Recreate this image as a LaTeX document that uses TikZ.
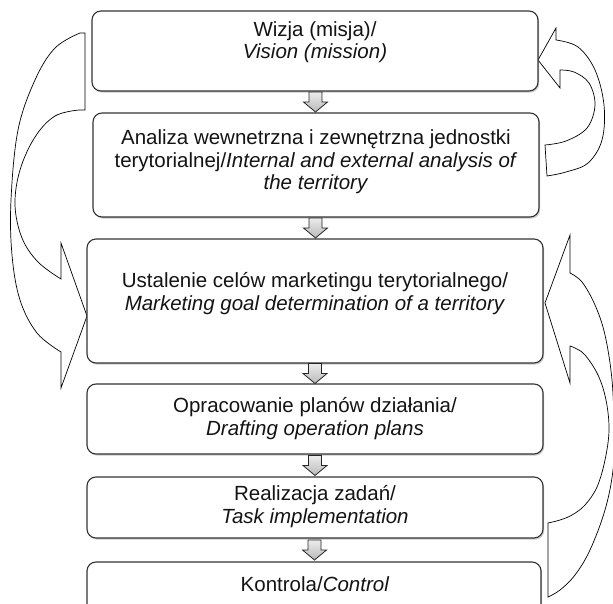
\documentclass[tikz,border=0pt]{standalone}
\usepackage{fontspec}
\setmainfont{Liberation Sans}
\usetikzlibrary{shadows,calc}
\begin{document}
\begin{tikzpicture}[x=1pt,y=-1pt,
 box/.style={draw=black!80, line width=1.1pt, rounded corners=9pt, fill=white, inner sep=0pt,
   drop shadow={shadow xshift=1.2pt, shadow yshift=-1.6pt, opacity=0.35, fill=black!60}},
 txt/.style={align=center, font=\fontsize{20.5}{22.5}\selectfont, text=black!92, inner sep=0pt},
 curv/.style={draw=black, line width=0.7pt, fill=white, line join=miter},
 darr/.style={draw=black!85, line width=0.8pt, top color=gray!15, bottom color=gray!55},
 pics/downarrow/.style={code={\draw[darr] (-6.5,-10) -- (6.5,-10) -- (6.5,0) -- (12,0) -- (0,10) -- (-12,0) -- (-6.5,0) -- cycle;}}]
\useasboundingbox (0,0) rectangle (613,604);

% left curved arrow (Vision -> goals)
\draw[curv] (85,33) -- (85,110) -- (79,110)
  -- plot[smooth, tension=0.6] coordinates {(79,110) (55,116) (35,137) (20,170) (15,205) (22,238) (38,262) (61,279)}
  -- (61,243) -- (87,316) -- (61,388) -- (61,352)
  -- plot[smooth, tension=0.6] coordinates {(61,352) (37,333) (20,300) (12,255) (11,200) (18,130) (35,80) (55,48) (80,33)}
  -- cycle;

% right upper curved arrow (analysis -> vision)
\draw[curv] (538,60) -- (556,28) -- (556,40)
  -- plot[smooth, tension=0.6] coordinates {(556,40) (578,47) (595,70) (604,105) (602,140) (588,163) (566,172) (547,176)}
  -- (545,145)
  -- plot[smooth, tension=0.6] coordinates {(545,145) (566,141) (587,128) (595,105) (589,83) (574,72) (560,70)}
  -- (560,88) -- cycle;

% right lower curved arrow (realisation -> goals)
\draw[curv] (545,303) -- (570,235) -- (570,273)
  -- plot[smooth, tension=0.6] coordinates {(570,273) (582,282) (595,305) (605,335) (612,380) (614,430) (613,470) (605,510) (590,550) (575,575) (560,590) (548,597)}
  -- (548,523)
  -- plot[smooth, tension=0.6] coordinates {(548,523) (560,520) (572,515) (585,505) (597,487) (605,460) (609,430) (606,400) (598,375) (585,355) (575,348) (570,346)}
  -- (570,383) -- cycle;

% boxes
\node[box, minimum width=446pt, minimum height=80pt] (b1) at (315,51) {};
\node[box, minimum width=446pt, minimum height=104pt] (b2) at (316,165) {};
\node[box, minimum width=456pt, minimum height=124pt] (b3) at (315,301) {};
\node[box, minimum width=456pt, minimum height=70pt] (b4) at (315,419) {};
\node[box, minimum width=456pt, minimum height=61pt] (b5) at (315,507.5) {};
\node[box, minimum width=454pt, minimum height=68pt] (b6) at (314,596) {};

% texts
\node[txt] (t1) at (315,42) {Wizja (misja)/\\\textit{Vision (mission)}};
\node[txt] (t2) at (316,162) {Analiza wewnetrzna i zewnętrzna jednostki\\terytorialnej/\textit{Internal and external analysis of}\\\textit{the territory}};
\node[txt] (t3) at (315,293.5) {Ustalenie celów marketingu terytorialnego/\\\textit{Marketing goal determination of a territory}};
\node[txt] (t4) at (315,418.5) {Opracowanie planów działania/\\\textit{Drafting operation plans}};
\node[txt] (t5) at (315,506.5) {Realizacja zadań/\\\textit{Task implementation}};
\node[txt] (t6) at (315,584) {Kontrola/\textit{Control}};

% down arrows
\path (b1.south) -- (b2.north) coordinate[midway] (m1);
\path (b2.south) -- (b3.north) coordinate[midway] (m2);
\path (b3.south) -- (b4.north) coordinate[midway] (m3);
\path (b4.south) -- (b5.north) coordinate[midway] (m4);
\path (b5.south) -- (b6.north) coordinate[midway] (m5);
\foreach \m in {m1,m2,m3,m4,m5} \pic at (\m) {downarrow};
\end{tikzpicture}
\end{document}
